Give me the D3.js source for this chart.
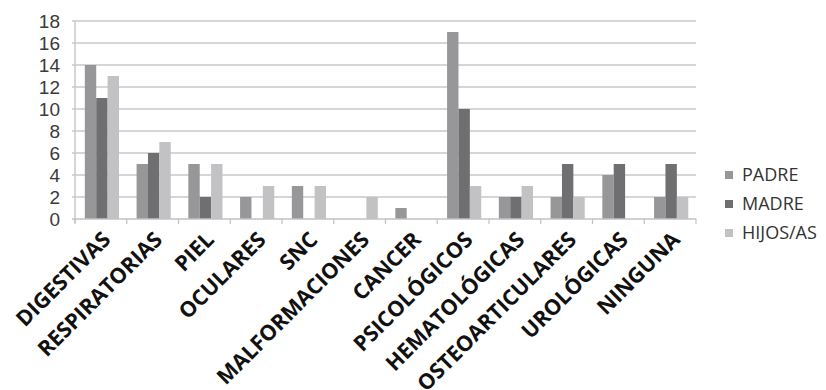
<!DOCTYPE html>
<html>
<head>
<meta charset="utf-8">
<script src="https://d3js.org/d3.v7.min.js"></script>
<style>
  body { margin: 0; background: #fff; }
  svg { display: block; }
</style>
</head>
<body>
<svg id="chart"></svg>
<script>
// data
var categories = ["DIGESTIVAS", "RESPIRATORIAS", "PIEL", "OCULARES", "SNC", "MALFORMACIONES",
                  "CANCER", "PSICOLÓGICOS", "HEMATOLÓGICAS", "OSTEOARTICULARES", "UROLÓGICAS", "NINGUNA"];
var series = ["PADRE", "MADRE", "HIJOS/AS"];
var padre = [14, 5, 5, 2, 3, 0, 1, 17, 2, 2, 4, 2];
var madre = [11, 6, 2, 0, 0, 0, 0, 10, 2, 5, 5, 5];
var hijos = [13, 7, 5, 3, 3, 2, 0, 3, 3, 2, 0, 2];
var yTicks = [0, 2, 4, 6, 8, 10, 12, 14, 16, 18];

var colors = ["#979799", "#6f6f71", "#c2c2c4"];
var values = [padre, madre, hijos];

var w = 826, h = 390;
var plotL = 75, plotR = 696, plotT = 21, plotB = 219;

var svg = d3.select("#chart").attr("width", w).attr("height", h);

var x0 = d3.scaleBand().domain(categories).range([plotL, plotR]).padding(0);
var x1 = d3.scaleBand().domain(series)
    .range([x0.bandwidth() * 0.19, x0.bandwidth() * 0.85]);
var y = d3.scaleLinear().domain([0, 18]).range([plotB, plotT]);

// gridlines
svg.append("g").selectAll("line")
    .data(yTicks.slice(1))
    .enter().append("line")
    .attr("x1", plotL - 3).attr("x2", plotR)
    .attr("y1", function (d) { return y(d); })
    .attr("y2", function (d) { return y(d); })
    .attr("stroke", "#c9c9c9")
    .attr("stroke-width", 1.5);

// y axis labels
svg.append("g").selectAll("text")
    .data(yTicks)
    .enter().append("text")
    .attr("x", 60)
    .attr("y", function (d) { return y(d); })
    .attr("dy", "0.36em")
    .attr("text-anchor", "end")
    .attr("font-family", "Liberation Sans, Arial, sans-serif")
    .attr("font-size", "19px")
    .attr("fill", "#3a3a3a")
    .text(function (d) { return d; });

// bars
var groups = svg.append("g").selectAll("g")
    .data(categories)
    .enter().append("g")
    .attr("transform", function (d) { return "translate(" + x0(d) + ",0)"; });

groups.selectAll("rect")
    .data(function (d, i) {
        return series.map(function (s, j) { return { s: s, j: j, v: values[j][i] }; });
    })
    .enter().append("rect")
    .filter(function (d) { return d.v > 0; })
    .attr("x", function (d) { return x1(d.s); })
    .attr("width", x1.bandwidth())
    .attr("y", function (d) { return y(d.v); })
    .attr("height", function (d) { return y(0) - y(d.v); })
    .attr("fill", function (d) { return colors[d.j]; });

// axes lines
svg.append("line")
    .attr("x1", plotL).attr("x2", plotL)
    .attr("y1", plotT).attr("y2", plotB + 4)
    .attr("stroke", "#c9c9c9").attr("stroke-width", 1.5);
svg.append("line")
    .attr("x1", plotL - 3).attr("x2", plotR)
    .attr("y1", plotB).attr("y2", plotB)
    .attr("stroke", "#c2c2c2").attr("stroke-width", 1.5);

// category boundary ticks
var bounds = categories.map(function (c) { return x0(c); }).concat([plotR]);
svg.append("g").selectAll("line")
    .data(bounds)
    .enter().append("line")
    .attr("x1", function (d) { return d; }).attr("x2", function (d) { return d; })
    .attr("y1", plotB).attr("y2", plotB + 5)
    .attr("stroke", "#c2c2c2").attr("stroke-width", 1.2);

// x labels
svg.append("g").selectAll("text")
    .data(categories)
    .enter().append("text")
    .attr("transform", function (d) {
        return "translate(" + (x0(d) + x0.bandwidth() / 2 + 11) + "," + (plotB + 22) + ")rotate(-45)";
    })
    .attr("text-anchor", "end")
    .attr("font-family", "Open Sans, sans-serif")
    .attr("font-weight", "bold")
    .attr("font-size", "21.5px")
    .attr("fill", "#111")
    .text(function (d) { return d; });

// legend
var legend = svg.append("g").selectAll("g")
    .data(series)
    .enter().append("g")
    .attr("transform", function (d, i) { return "translate(725," + (175 + i * 29) + ")"; });

legend.append("rect")
    .attr("x", 0).attr("y", -4)
    .attr("width", 8).attr("height", 8)
    .attr("fill", function (d, i) { return colors[i]; });

legend.append("text")
    .attr("x", 17).attr("y", 0)
    .attr("dy", "0.36em")
    .attr("font-family", "Open Sans, sans-serif")
    .attr("font-size", "18px")
    .attr("fill", "#333")
    .text(function (d) { return d; });
</script>
</body>
</html>
